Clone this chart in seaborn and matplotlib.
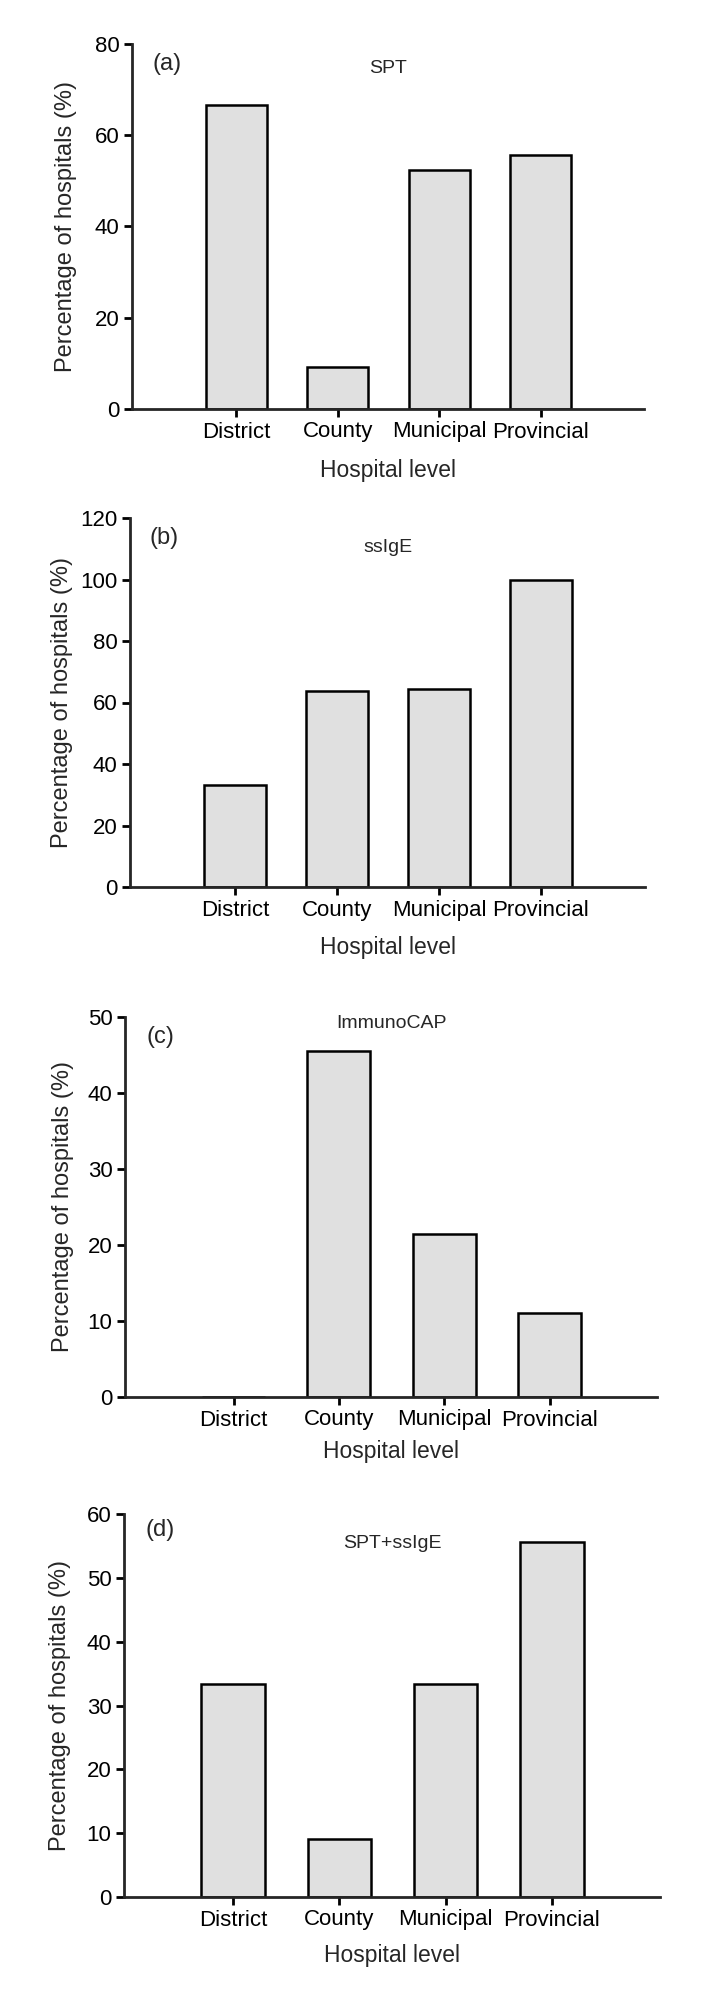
import pandas as pd
import matplotlib
matplotlib.use("Agg")
import matplotlib.pyplot as plt
import seaborn as sns

# data
levels = ["District", "County", "Municipal", "Provincial"]
spt = [66.7, 9.1, 52.4, 55.6]
ssige = [33.3, 63.6, 64.3, 100.0]
immunocap = [0.0, 45.5, 21.4, 11.1]
spt_ssige = [33.3, 9.1, 33.3, 55.6]

panel_tags = ["(a)", "(b)", "(c)", "(d)"]
panel_titles = ["SPT", "ssIgE", "ImmunoCAP", "SPT+ssIgE"]
panel_values = [spt, ssige, immunocap, spt_ssige]
y_max = [80, 120, 50, 60]
y_step = [20, 20, 10, 10]

sns.set_style("ticks")
plt.rcParams["font.family"] = ["Liberation Sans", "DejaVu Sans"]

W, H = 703, 2011
fig = plt.figure(figsize=(W / 100, H / 100), dpi=100)

# axes boxes in pixels: left, right, top, bottom
boxes = [(132, 644, 44, 409), (130, 645, 518, 887),
         (125, 657, 1017, 1397), (124, 660, 1514, 1897)]
title_dy = [25, 30, 7, 29]      # px below the axes top
tag_pos = [(167, 64), (164, 538), (160, 1037), (160, 1530)]
xlabel_pad = [12, 11, 7, 10]
ylabel_x = [66, 62, 63, 60]     # px, centre of the rotated y label

for i in range(4):
    l, r, t, b = boxes[i]
    ax = fig.add_axes([l / W, 1 - b / H, (r - l) / W, (b - t) / H])
    df = pd.DataFrame({"level": levels, "pct": panel_values[i]})
    sns.barplot(data=df, x="level", y="pct", order=levels, width=0.6,
                color="#e0e0e0", edgecolor="black", linewidth=1.8,
                saturation=1, ax=ax)
    ax.set_xlim(-1.03, 4.02)
    ax.set_ylim(0, y_max[i])
    ax.set_yticks(range(0, y_max[i] + 1, y_step[i]))
    sns.despine(ax=ax)
    for sp in ["left", "bottom"]:
        ax.spines[sp].set_linewidth(2)
    ax.tick_params(axis="both", width=2, length=6, labelsize=16, pad=3,
                   colors="black")
    ax.set_xlabel("Hospital level", fontsize=16.5, labelpad=xlabel_pad[i])
    ax.set_ylabel("Percentage of hospitals (%)", fontsize=17, va="center")
    ax.yaxis.set_label_coords((ylabel_x[i] - l) / (r - l), 0.5)
    ax.text(0.5, 1 - title_dy[i] / (b - t), panel_titles[i],
            transform=ax.transAxes, ha="center", va="center", fontsize=14)
    tx, ty = tag_pos[i]
    fig.text(tx / W, 1 - ty / H, panel_tags[i], ha="center", va="center",
             fontsize=17)

fig.savefig("out.png", dpi=100)
